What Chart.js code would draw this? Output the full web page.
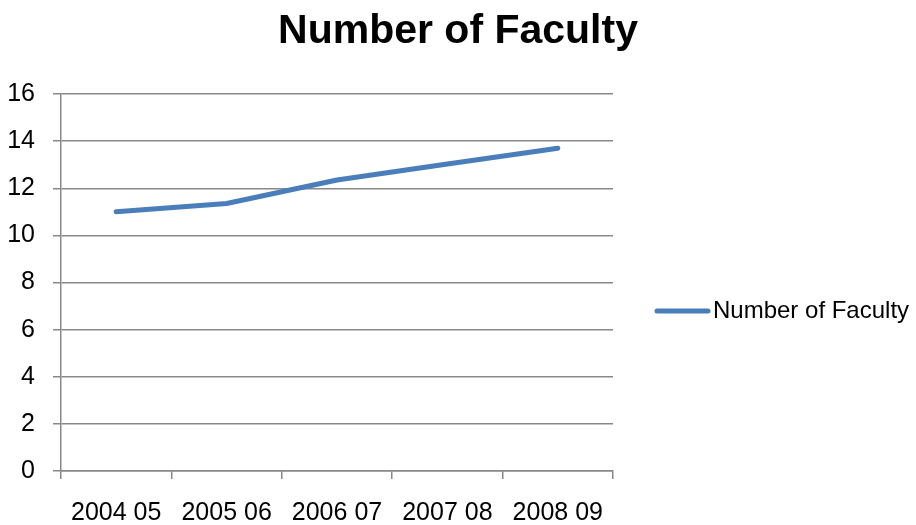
<!DOCTYPE html>
<html>
<head>
<meta charset="utf-8">
<title>Number of Faculty</title>
<script src="https://cdn.jsdelivr.net/npm/chart.js@4.4.1/dist/chart.umd.min.js"></script>
<style>
    html, body { margin: 0; padding: 0; background: #ffffff; }
    #wrap { width: 916px; height: 525px; position: relative; }
</style>
</head>
<body>
<div id="wrap"><canvas id="facultyChart"></canvas></div>
<script>
/* =========================
   DATA
========================= */

const years = ['2004 05', '2005 06', '2006 07', '2007 08', '2008 09'];
const facultyCount = [11.0, 11.35, 12.35, 13.03, 13.7];
const seriesName = 'Number of Faculty';
const yTicks = [0, 2, 4, 6, 8, 10, 12, 14, 16];

const FONT = "'Liberation Sans', Arial, sans-serif";
const LINE_BLUE = '#4a7ebb';
const GRID_GREY = '#888888';

/* =========================
   TITLE + LEGEND (drawn on canvas)
========================= */

const sideLegend = {
    id: 'sideLegend',
    afterDraw(chart) {
        const ctx = chart.ctx;
        ctx.save();

        // title, centred over the whole canvas
        ctx.fillStyle = '#000000';
        ctx.font = 'bold 41px ' + FONT;
        ctx.textAlign = 'center';
        ctx.textBaseline = 'middle';
        ctx.fillText(seriesName, chart.width / 2, 32);

        // legend entry
        const y = 311;
        ctx.strokeStyle = LINE_BLUE;
        ctx.lineWidth = 5;
        ctx.lineCap = 'round';
        ctx.beginPath();
        ctx.moveTo(657, y);
        ctx.lineTo(708, y);
        ctx.stroke();
        ctx.font = '24px ' + FONT;
        ctx.textAlign = 'left';
        ctx.fillText(seriesName, 713, y);

        ctx.restore();
    }
};

/* =========================
   CHART
========================= */

new Chart(document.getElementById('facultyChart'), {
    type: 'line',

    data: {
        labels: years,
        datasets: [{
            label: seriesName,
            data: facultyCount,
            borderColor: LINE_BLUE,
            borderWidth: 5,
            borderCapStyle: 'round',
            borderJoinStyle: 'round',
            tension: 0,
            pointRadius: 0,
            fill: false
        }]
    },

    options: {
        responsive: true,
        maintainAspectRatio: false,
        animation: false,

        layout: {
            padding: { left: 0, right: 303, top: 94, bottom: 0 }
        },

        plugins: {
            legend: { display: false },
            tooltip: { enabled: false },
            title: { display: false }
        },

        scales: {
            x: {
                offset: true,
                grid: {
                    offset: true,
                    drawOnChartArea: false,
                    drawTicks: true,
                    tickLength: 8,
                    color: GRID_GREY,
                    lineWidth: 1.5
                },
                border: { color: GRID_GREY, width: 1.5 },
                ticks: {
                    color: '#000000',
                    font: { family: FONT, size: 25 },
                    padding: 19,
                    autoSkip: false,
                    maxRotation: 0
                },
                afterFit(scale) { scale.height = 54; }
            },
            y: {
                min: 0,
                max: 16,
                afterBuildTicks(scale) {
                    scale.ticks = yTicks.map(v => ({ value: v }));
                },
                grid: {
                    color: GRID_GREY,
                    lineWidth: 1.5,
                    tickLength: 8
                },
                border: { color: GRID_GREY, width: 1.5 },
                ticks: {
                    color: '#000000',
                    font: { family: FONT, size: 25 },
                    padding: 18
                },
                afterFit(scale) { scale.width = 61; }
            }
        }
    },

    plugins: [sideLegend]
});
</script>
</body>
</html>
